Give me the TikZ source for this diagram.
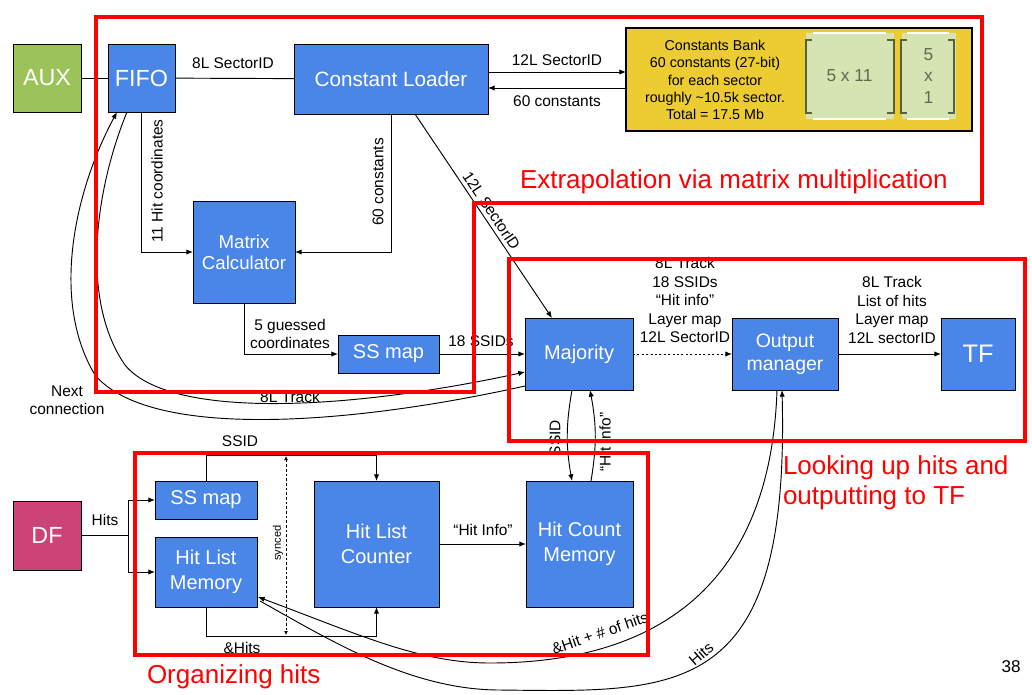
\documentclass[tikz,border=0pt]{standalone}
\usepackage{fontspec}
\setmainfont{Liberation Sans}
\usetikzlibrary{arrows.meta,calc}
\definecolor{gblue}{RGB}{74,134,232}
\definecolor{auxg}{RGB}{155,195,89}
\definecolor{dfm}{RGB}{204,68,119}
\definecolor{bankY}{RGB}{236,204,48}
\definecolor{matg}{RGB}{214,228,180}
\definecolor{brk}{RGB}{88,98,58}
\definecolor{mtxt}{RGB}{95,105,75}
\begin{document}
\begin{tikzpicture}[x=0.75pt,y=-0.75pt,
 every node/.style={inner sep=0pt,outer sep=0pt},
 sz/.style 2 args={minimum width={#1*0.75pt},minimum height={#2*0.75pt}},
 blk/.style={draw=black,line width=0.6pt,fill=gblue,text=white,align=center,font=\fontsize{15}{18.5}\selectfont},
 bigblk/.style={blk,font=\fontsize{17.5}{20}\selectfont},
 lbl/.style={font=\fontsize{11.6}{13.9}\selectfont,align=center,text=black},
 conn/.style={line width=0.7pt,black},
 arr/.style={conn,-{Latex[length=5pt,width=4pt]}},
 redbox/.style={draw=red,line width=3pt,line join=miter},
 redtxt/.style={text=red,font=\fontsize{19.5}{22.5}\selectfont,align=left},
 brkline/.style={draw=brk,line width=1.6pt},
]
\useasboundingbox (0,0) rectangle (1032,694);

% ---------- nodes ----------
\node[bigblk,fill=auxg,sz={68}{68}] (aux) at (47,78) {AUX};
\node[bigblk,sz={67}{68}] (fifo) at (141.5,78) {FIFO};
\node[blk,sz={194}{70},font=\fontsize{15.5}{18}\selectfont] (cl) at (391,79) {Constant Loader};
\node[draw=black,line width=1pt,fill=bankY,sz={346}{103}] (bank) at (799,79.5) {};
\node[font=\fontsize{10.7}{13}\selectfont,align=center] (banktxt) at (715,80) {Constants Bank\\60 constants (27-bit)\\for each sector\\roughly \textasciitilde10.5k sector.\\Total = 17.5 Mb};
\node[fill=matg,sz={88}{86}] (m1) at (849.5,76) {};
\node[fill=matg,sz={54}{86}] (m2) at (928.5,76) {};
\node[text=mtxt,font=\fontsize{13}{15}\selectfont] (m1t) at (m1) {5 x 11};
\node[text=mtxt,font=\fontsize{13}{15.8}\selectfont,align=center] (m2t) at (m2) {5\\x\\1};
\node[blk,sz={102}{102},font=\fontsize{14}{15.75}\selectfont] (mc) at (244,252) {Matrix\\Calculator};
\node[blk,sz={101}{38}] (ssm) at (388.5,354) {SS map};
\node[blk,sz={108}{72}] (maj) at (579,354) {Majority};
\node[blk,sz={106}{72},font=\fontsize{14.6}{17.5}\selectfont] (om) at (785,354) {Output\\manager};
\node[bigblk,sz={74}{72},font=\fontsize{19}{20}\selectfont] (tf) at (978,354) {TF};
\node[bigblk,fill=dfm,sz={68}{69}] (df) at (47,535.5) {DF};
\node[blk,sz={102}{38}] (ssm2) at (206,500) {SS map};
\node[blk,sz={102}{70}] (hlm) at (206,572) {Hit List\\Memory};
\node[blk,sz={125}{126}] (hlc) at (376.5,544) {Hit List\\Counter};
\node[blk,sz={107}{126}] (hcm) at (579.5,544) {Hit Count\\Memory};

% bracket decoration in the constants bank
\draw[white,line width=1.2pt] (813,33) -- (886,33) (813,119) -- (886,119) (907,33) -- (949,33) (907,119) -- (949,119);
\draw[brkline] (812,40) -- (806,40) -- (806,113) -- (812,113);
\draw[brkline] (887,40) -- (894,40) -- (894,113) -- (887,113);
\draw[brkline] (907,40) -- (901,40) -- (901,113) -- (907,113);
\draw[brkline] (948,40) -- (954,40) -- (954,113) -- (948,113);

% ---------- connectors ----------
\draw[conn] (aux) -- (fifo);
\draw[conn] (fifo) -- (cl);
\draw[arr] ($(cl.east)+(0,-7)$) -- ($(bank.west)+(0,-7.5)$);
\draw[arr] ($(bank.west)+(0,8.5)$) -- ($(cl.east)+(0,9)$);
\draw[arr] (fifo.south) |- (mc.west);
\draw[arr] (cl.south) |- (mc.east);
\draw[arr] ($(cl.south)+(24,0)$) -- node[lbl,sloped,above=3pt,pos=0.5] (l12d) {12L SectorID} ($(maj.north)+(-27,0)$);
\draw[arr] (mc.south) |- (ssm.west);
\draw[arr] (ssm.east) -- (maj.west);
% FIFO <-> Majority curves
\draw[arr] ($(maj.west)+(0,32)$) .. controls (350,425) and (150,440) .. (95,375)
  .. controls (50,300) and (75,190) .. ($(fifo.south)+(-24.5,0)$);
\draw[arr] ($(fifo.south)+(-14.5,0)$) .. controls (95,190) and (80,300) .. (125,365)
  .. controls (170,420) and (350,410) .. ($(maj.west)+(0,18)$);
\draw[arr,dash pattern=on 1.5pt off 1.8pt] (maj.east) -- (om.west);
\draw[arr] (om.east) -- (tf.west);
\draw[arr] ($(maj.south)+(-7,0)$) to[bend right=10] ($(hcm.north)+(-7.5,0)$);
\draw[arr] ($(hcm.north)+(11.5,0)$) to[bend right=10] ($(maj.south)+(11,0)$);
% DF split
\coordinate (split) at (128,535.5);
\draw[conn] (df.east) -- (split);
\draw[arr] (split) |- (ssm2.west);
\draw[arr] (split) |- (hlm.west);
\draw[arr] (ssm2.north) -- ++(0,-26) -| (hlc.north);
\draw[arr] (hlm.south) -- ++(0,29) -| (hlc.south);
\draw[line width=0.6pt,dash pattern=on 2pt off 1.5pt,{Latex[length=3pt,width=3pt]}-{Latex[length=3pt,width=3pt]}] ($(ssm2.north)+(80,-25)$) -- ($(hlm.south)+(80,28)$);
\draw[arr] (hlc.east) -- (hcm.west);
% Output manager <-> Hit List Memory
\draw[arr] ($(om.south)+(-8,0)$) .. controls (770,600) and (640,663) .. (490,663)
  .. controls (420,663) and (360,635) .. ($(hlm.east)+(1,25)$);
\draw[arr] ($(hlm.east)+(3,29)$) .. controls (330,640) and (410,690) .. (500,690)
  .. controls (680,692) and (790,700) .. ($(om.south)+(-3,0)$);

% ---------- labels ----------
\node[lbl] (l8s) at (233,63) {8L SectorID};
\node[lbl] (l12s) at (557,60) {12L SectorID};
\node[lbl] (l60c) at (557,101) {60 constants};
\node[lbl,rotate=90] (l11) at (157,181) {11 Hit coordinates};
\node[lbl,rotate=90] (l60b) at (378,182) {60 constants};
\node[lbl,font=\fontsize{11.6}{13.5}\selectfont] (l5g) at (290,334) {5 guessed\\coordinates};
\node[lbl] (l18) at (481,341) {18 SSIDs};
\node[lbl] (lmid) at (685,300) {8L Track\\18 SSIDs\\“Hit info”\\Layer map\\12L SectorID};
\node[lbl] (lright) at (892,310) {8L Track\\List of hits\\Layer map\\12L sectorID};
\node[lbl,font=\fontsize{11.6}{13.5}\selectfont] (lnext) at (67,400) {Next\\connection};
\node[lbl] (l8t) at (290,397) {8L Track};
\node[lbl] (lssid) at (240,441) {SSID};
\node[lbl] (lhits) at (105,520) {Hits};
\node[lbl] (lamp) at (242,648) {\&Hits};
\node[lbl,rotate=90] (lssid2) at (555,438) {SSID};
\node[lbl,rotate=90] (lhi) at (605,442) {“Hit Info”};
\node[lbl] (lhi2) at (483,530) {“Hit Info”};
\node[font=\fontsize{8.3}{10}\selectfont,rotate=90] (lsync) at (278,543) {synced};
\node[lbl,rotate=19] (lamp2) at (600,633) {\&Hit + \# of hits};
\node[lbl,rotate=41] (lhits2) at (701,654) {Hits};

% ---------- red groupings ----------
\draw[redbox] (96,17) -- (982,17) -- (982,203) -- (474,203) -- (474,392) -- (96,392) -- cycle;
\draw[redbox] (509,259) rectangle (1025,441);
\draw[redbox] (135,453) rectangle (648,655);
\node[redtxt,anchor=west] (rt1) at (520,182) {Extrapolation via matrix multiplication};
\node[redtxt,anchor=west] (rt2) at (783,483) {Looking up hits and\\outputting to TF};
\node[redtxt,anchor=west] (rt3) at (147,677) {Organizing hits};
\node[font=\fontsize{12.8}{14}\selectfont] (pg) at (1011,667) {38};
\end{tikzpicture}
\end{document}
